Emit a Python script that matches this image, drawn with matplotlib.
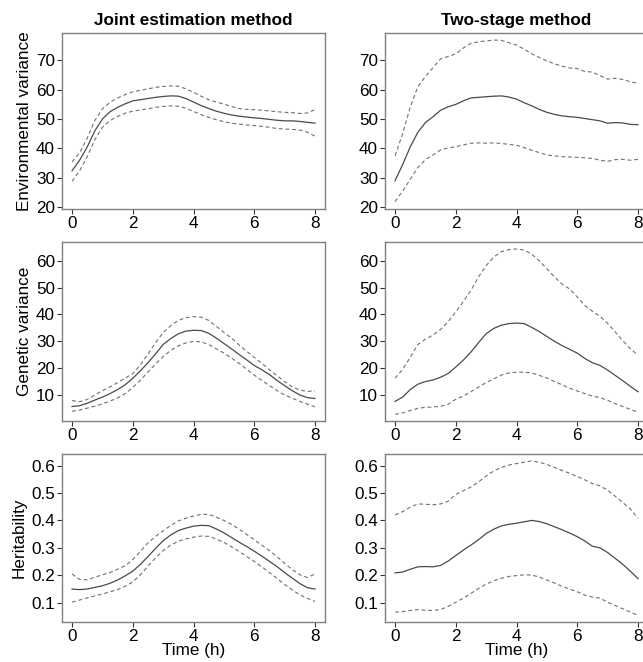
import numpy as np
import matplotlib
matplotlib.use("Agg")
import matplotlib.pyplot as plt

plt.rcParams['font.family'] = ['Liberation Sans', 'DejaVu Sans']

# time grid (hours)
time_h = [0, 0.25, 0.5, 0.75, 1, 1.25, 1.5, 1.75, 2, 2.25, 2.5, 2.75, 3, 3.25, 3.5, 3.75,
          4, 4.25, 4.5, 4.75, 5, 5.25, 5.5, 5.75, 6, 6.25, 6.5, 6.75, 7, 7.25, 7.5, 7.75, 8]

# Environmental variance - joint estimation
env_joint = [32.4, 36, 40.5, 46, 50, 52.5, 54, 55.2, 56.2, 56.6, 57, 57.4, 57.7, 57.9, 57.8, 57,
             55.8, 54.6, 53.6, 52.7, 52, 51.4, 51, 50.7, 50.4, 50.2, 49.9, 49.6, 49.4, 49.4, 49.2, 48.9, 48.6]
env_joint_hi = [35.4, 38.5, 43.5, 49.5, 53.5, 55.7, 57.2, 58.3, 59.3, 59.8, 60.3, 60.8, 61.1, 61.3, 61.2, 60.3,
                59.1, 57.8, 56.6, 55.8, 55.1, 54.3, 53.6, 53.3, 53.2, 53, 52.8, 52.5, 52.3, 52.2, 51.9, 52.1, 53.2]
env_joint_lo = [28.8, 32.4, 37.2, 43, 47.2, 49.5, 50.9, 52, 52.7, 53.1, 53.5, 54, 54.3, 54.5, 54.4, 53.7,
                52.6, 51.5, 50.6, 49.8, 49.1, 48.6, 48.3, 48, 47.8, 47.5, 47.2, 46.8, 46.6, 46.5, 46.3, 45.5, 44.2]

# Environmental variance - two-stage
env_two = [29, 34.5, 40.5, 45.5, 48.8, 50.8, 53, 54.2, 55, 56.2, 57.2, 57.4, 57.6, 57.8, 57.9, 57.5,
           56.8, 55.6, 54.5, 53.3, 52.3, 51.6, 51.1, 50.8, 50.6, 50.2, 49.8, 49.4, 48.6, 48.8, 48.7, 48.2, 48.1]
env_two_hi = [37.5, 45, 54, 61, 64.5, 67.5, 70.5, 71.3, 72.2, 74.2, 75.8, 76.3, 76.6, 76.9, 76.8, 76,
              75.2, 73.8, 72.2, 71, 69.8, 68.8, 68, 67.4, 67.2, 66.2, 66, 64.8, 63.6, 63.9, 63.5, 62.7, 62.2]
env_two_lo = [21.9, 25.5, 29.5, 33.5, 36.2, 37.8, 39.5, 40.2, 40.6, 41.2, 41.8, 41.9, 41.8, 41.9, 41.7, 41.4,
              41.1, 40.3, 39.4, 38.6, 37.8, 37.5, 37.2, 37.1, 37, 36.8, 36.6, 36, 35.6, 36.2, 36.3, 36, 36.3]

# Genetic variance - joint estimation
gen_joint = [5.7, 6.0, 6.9, 8.1, 9.2, 10.5, 12, 13.8, 16.2, 19, 22, 25.3, 28.8, 31, 32.8, 33.8,
             34.1, 34, 33, 31.2, 29.2, 27.2, 25.1, 23.1, 21, 19.4, 17.6, 15.4, 13.5, 11.6, 10, 9, 8.7]
gen_joint_hi = [7.9, 7.5, 8.3, 10, 11.6, 13, 14.6, 16.3, 17.9, 21.2, 25.2, 29.5, 33.2, 35.8, 37.8, 38.8,
                39.2, 39, 37.8, 35.6, 33.3, 31.2, 28.6, 26.3, 24, 21.8, 19.4, 17.2, 15, 13, 11.8, 11.3, 11.6]
gen_joint_lo = [3.9, 4.4, 5.1, 5.8, 6.7, 7.7, 8.9, 10.5, 12.8, 15.5, 18.5, 21.5, 24.3, 26.6, 28.3, 29.4,
                30, 29.8, 28.8, 27.2, 25.6, 23.8, 21.8, 19.6, 17.4, 15.4, 13.5, 11.6, 10, 8.8, 7.6, 6.6, 5.6]

# Genetic variance - two-stage
gen_two = [7.6, 9.2, 12, 14, 15, 15.6, 16.6, 18, 20.4, 23, 26, 29.5, 32.8, 34.8, 36, 36.6,
           36.8, 36.6, 35.2, 33.6, 31.8, 30, 28.4, 27, 25.6, 23.6, 22, 21, 19.3, 17.3, 15.3, 13.2, 11.2]
gen_two_hi = [16.2, 19.5, 24, 28.8, 30.8, 32.3, 34.4, 37.3, 41, 44.8, 49, 54, 58.2, 61.4, 63.4, 64.2,
              64.4, 64, 62.5, 60, 57, 54, 51.3, 49.5, 46.5, 43.3, 41.2, 39.3, 36.7, 33.5, 30.2, 27.2, 24.8]
gen_two_lo = [2.8, 3.3, 4.2, 5.0, 5.4, 5.5, 5.8, 6.5, 8.4, 9.6, 11.2, 13, 14.6, 16, 17.4, 18.2,
              18.5, 18.5, 18.2, 17.3, 16.3, 15, 13.8, 12.5, 11.5, 10.5, 9.6, 9, 8, 6.8, 5.7, 4.6, 3.6]

# Heritability - joint estimation
her_joint = [.150, .148, .150, .156, .162, .171, .183, .198, .215, .240, .268, .298, .326, .347, .363, .372,
             .379, .382, .381, .369, .355, .338, .321, .305, .288, .270, .251, .232, .210, .190, .170, .155, .150]
her_joint_hi = [.205, .185, .184, .193, .202, .210, .222, .235, .257, .287, .318, .342, .362, .382, .398, .408,
                .416, .422, .422, .412, .400, .386, .368, .349, .330, .310, .290, .268, .244, .221, .202, .192, .205]
her_joint_lo = [.102, .110, .118, .125, .132, .140, .148, .160, .176, .202, .233, .264, .290, .310, .324, .333,
                .339, .343, .342, .332, .320, .304, .287, .269, .251, .231, .210, .189, .167, .147, .129, .116, .105]

# Heritability - two-stage
her_two = [.209, .212, .222, .231, .232, .231, .236, .252, .272, .292, .310, .330, .352, .368, .380, .386,
           .390, .395, .400, .396, .388, .377, .366, .354, .341, .325, .306, .300, .283, .262, .240, .215, .188]
her_two_hi = [.420, .432, .448, .460, .459, .457, .460, .470, .495, .508, .522, .540, .562, .580, .593, .602,
              .607, .612, .617, .612, .604, .593, .582, .572, .560, .548, .534, .526, .510, .488, .465, .442, .408]
her_two_lo = [.066, .068, .072, .075, .073, .072, .075, .087, .102, .117, .134, .152, .168, .180, .189, .196,
              .199, .202, .201, .194, .183, .172, .160, .150, .140, .128, .121, .117, .102, .090, .078, .066, .054]

col_titles = ["Joint estimation method", "Two-stage method"]
row_labels = ["Environmental variance", "Genetic variance", "Heritability"]
x_ticks = [0, 2, 4, 6, 8]
y_ticks = [[20, 30, 40, 50, 60, 70], [10, 20, 30, 40, 50, 60], [0.1, 0.2, 0.3, 0.4, 0.5, 0.6]]
y_limits = [(19.4, 79.3), (0.3, 67.0), (0.03, 0.642)]

panels = [
    [(env_joint, env_joint_hi, env_joint_lo), (env_two, env_two_hi, env_two_lo)],
    [(gen_joint, gen_joint_hi, gen_joint_lo), (gen_two, gen_two_hi, gen_two_lo)],
    [(her_joint, her_joint_hi, her_joint_lo), (her_two, her_two_hi, her_two_lo)],
]

W, H = 643, 662
fig = plt.figure(figsize=(W / 100, H / 100), dpi=100)

col_left = [62, 385]
ax_w = 263
row_box = [(33, 209), (242, 421), (454, 622)]
fs = 12.3

for r in range(3):
    top, bot = row_box[r]
    for c in range(2):
        ax = fig.add_axes([col_left[c] / W, 1 - bot / H, ax_w / W, (bot - top) / H])
        mid, hi, lo = panels[r][c]
        ax.plot(time_h, mid, color='#4a4a4a', lw=0.9)
        ax.plot(time_h, hi, color='#707070', lw=0.8, ls=(0, (3.5, 2.5)))
        ax.plot(time_h, lo, color='#707070', lw=0.8, ls=(0, (3.5, 2.5)))
        ax.set_xlim(-0.33, 8.33)
        ax.set_ylim(*y_limits[r])
        ax.set_xticks(x_ticks)
        ax.set_yticks(y_ticks[r])
        if r == 2:
            ax.set_yticklabels([f"{v:.1f}" for v in y_ticks[r]])
        for s in ax.spines.values():
            s.set_color('#808080')
            s.set_linewidth(1.0)
        ax.tick_params(direction='out', length=3.5, width=0.8, color='#333333',
                       labelsize=fs, pad=1.5)
        if r == 0:
            ax.set_title(col_titles[c], fontsize=fs, fontweight='bold', pad=6)
        if c == 0:
            ax.set_ylabel(row_labels[r], fontsize=fs, labelpad=3)
        if r == 2:
            ax.set_xlabel("Time (h)", fontsize=fs, labelpad=-1)

fig.savefig("out.png", dpi=100)
